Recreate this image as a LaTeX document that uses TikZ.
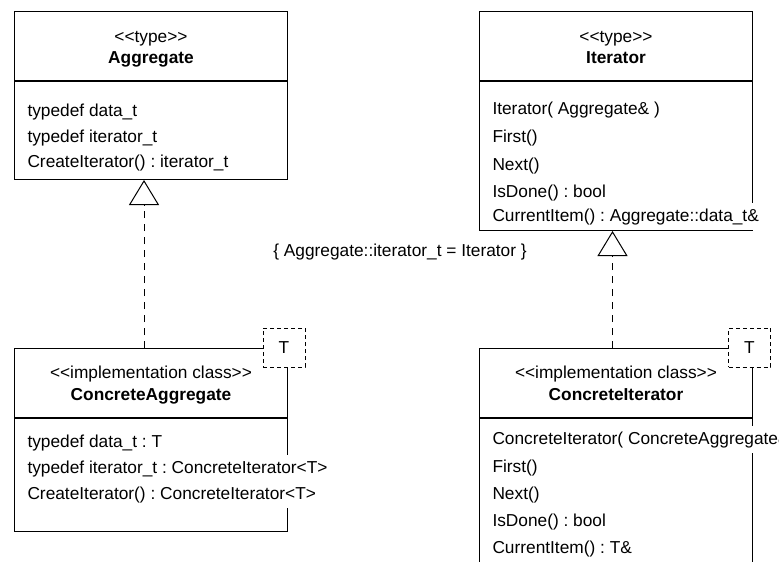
\documentclass[tikz,border=0pt]{standalone}
\usepackage{fontspec}
\setmainfont{Liberation Sans}
\usetikzlibrary{positioning,arrows.meta}

\newcommand{\stereo}[1]{<\kern0pt<#1>\kern0pt>}

\begin{document}
\frenchspacing
\begin{tikzpicture}[x=1pt, y=-1pt, line width=1pt, font=\fontsize{17.3}{21.5}\selectfont,
    head/.style = {draw, minimum width=273pt, minimum height=69pt, anchor=north west, inner sep=0pt},
    body/.style = {draw, minimum width=273pt, inner sep=0pt},
    kind/.style = {anchor=base, inner sep=0pt},
    cname/.style = {anchor=base, inner sep=0pt, font=\fontsize{17.3}{21.5}\selectfont\bfseries},
    attr/.style = {anchor=base west, inner xsep=0pt, inner ysep=5pt, fill=white},
    param/.style = {draw, dash pattern=on 4pt off 3pt, minimum width=42pt, minimum height=39pt, fill=white, inner sep=0pt},
    realize/.style = {dash pattern=on 7pt off 6pt, -{Triangle[open, width=30pt, length=25pt]}}]
    \useasboundingbox (0,0) rectangle (779,562);
    \clip (0,0) rectangle (779,562);

    % Aggregate
    \node[head] (aggh) at (14,11)                      {};
    \node[kind] (aggk) at ([yshift=-31pt]aggh.north)   {\stereo{type}};
    \node[cname] (aggn) at ([yshift=-52pt]aggh.north)  {Aggregate};
    \node[body, minimum height=98pt, below=0pt of aggh] (aggb) {};
    \node[attr] (agg1) at (27,116)                     {typedef data\_t};
    \node[attr] (agg2) at (27,142)                     {typedef iterator\_t};
    \node[attr] (agg3) at (27,167)                     {CreateIterator() : iterator\_t};

    % Iterator
    \node[head] (ith) at (479,11)                      {};
    \node[kind] (itk) at ([yshift=-31pt]ith.north)     {\stereo{type}};
    \node[cname] (itn) at ([yshift=-52pt]ith.north)    {Iterator};
    \node[body, minimum height=149pt, below=0pt of ith] (itb) {};
    \node[attr] (it1) at (492,114)                     {Iterator( Aggregate\& )};
    \node[attr] (it2) at (492,142)                     {First()};
    \node[attr] (it3) at (492,170)                     {Next()};
    \node[attr] (it4) at (492,197)                     {IsDone() : bool};
    \node[attr] (it5) at (492,221)                     {CurrentItem() : Aggregate::data\_t\&};

    % ConcreteAggregate
    \node[head] (caggh) at (14,348)                    {};
    \node[kind] (caggk) at ([yshift=-30pt]caggh.north) {\stereo{implementation class}};
    \node[cname] (caggn) at ([yshift=-52pt]caggh.north) {ConcreteAggregate};
    \node[body, minimum height=113pt, below=0pt of caggh] (caggb) {};
    \node[attr] (cagg1) at (27,447)                    {typedef data\_t : T};
    \node[attr] (cagg2) at (27,473)                    {typedef iterator\_t : ConcreteIterator<T>};
    \node[attr] (cagg3) at (27,499)                    {CreateIterator() : ConcreteIterator<T>};
    \node[param] (caggT) at (284,347.5)                {T};

    % ConcreteIterator
    \node[head] (cith) at (479,348)                    {};
    \node[kind] (citk) at ([yshift=-30pt]cith.north)   {\stereo{implementation class}};
    \node[cname] (citn) at ([yshift=-52pt]cith.north)  {ConcreteIterator};
    \node[body, minimum height=170pt, below=0pt of cith] (citb) {};
    \node[attr] (cit1) at (492,444)                    {ConcreteIterator( ConcreteAggregate\& )};
    \node[attr] (cit2) at (492,472)                    {First()};
    \node[attr] (cit3) at (492,499)                    {Next()};
    \node[attr] (cit4) at (492,526)                    {IsDone() : bool};
    \node[attr] (cit5) at (492,553)                    {CurrentItem() : T\&};
    \node[param] (citT) at (749.5,347.5)               {T};

    \node (cons) at (400,252)                          {\{ Aggregate::iterator\_t = Iterator \}};

    \draw[realize] ([xshift=-7pt]caggh.north) -- ([xshift=-7pt]aggb.south);
    \draw[realize] ([xshift=-3.5pt]cith.north) -- ([xshift=-3.5pt]itb.south);
\end{tikzpicture}
\end{document}
